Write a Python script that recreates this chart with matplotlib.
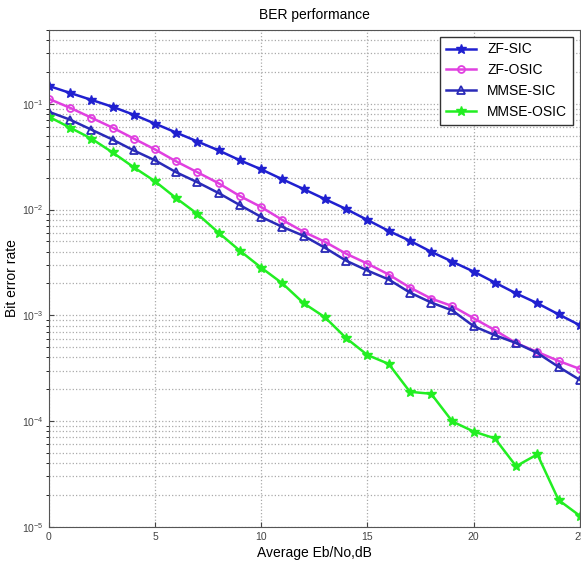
import matplotlib.pyplot as plt

plt.rcParams['font.family'] = ['Liberation Sans', 'DejaVu Sans']

snr = list(range(26))

zf_sic = [0.1476, 0.1267, 0.109, 0.0937, 0.0788, 0.0649, 0.0534, 0.0440, 0.0362, 0.0292,
          0.0240, 0.0193, 0.0156, 0.01255, 0.0101, 0.00797, 0.00628, 0.00506, 0.00399, 0.00321,
          0.00259, 0.00204, 0.00161, 0.00130, 0.00102, 0.000805]
zf_osic = [0.1114, 0.0917, 0.0739, 0.0595, 0.0469, 0.0370, 0.0285, 0.0225, 0.0177, 0.0134,
           0.01055, 0.00796, 0.00615, 0.00495, 0.00382, 0.00308, 0.00243, 0.00183, 0.00144, 0.00122,
           0.000938, 0.000723, 0.000546, 0.000450, 0.000370, 0.000311]
mmse_sic = [0.0841, 0.0708, 0.0570, 0.0459, 0.0362, 0.0292, 0.0225, 0.0181, 0.0143, 0.0110,
            0.00851, 0.00685, 0.00564, 0.00435, 0.00328, 0.00265, 0.00218, 0.00164, 0.00132, 0.00111,
            0.000789, 0.000649, 0.000546, 0.000440, 0.000325, 0.000245]
mmse_osic = [0.0755, 0.0595, 0.0469, 0.0347, 0.0251, 0.0185, 0.0128, 0.00907, 0.00602, 0.00407,
             0.00282, 0.00200, 0.00130, 0.000958, 0.000608, 0.000421, 0.000347, 0.000189, 0.000181, 9.9e-5,
             7.96e-5, 6.85e-5, 3.74e-5, 4.84e-5, 1.79e-5, 1.27e-5]

fig = plt.figure(figsize=(5.81, 5.64), dpi=100)
ax = fig.add_axes([0.084, 0.066, 0.914, 0.881])

ax.semilogy(snr, zf_sic, color='#2020d0', marker='*', markersize=7, lw=1.8, label='ZF-SIC')
ax.semilogy(snr, zf_osic, color='#e040e0', marker='o', markersize=5, mfc='none', mew=1.3, lw=1.8, label='ZF-OSIC')
ax.semilogy(snr, mmse_sic, color='#2a2ab8', marker='^', markersize=6, mfc='none', mew=1.3, lw=1.8, label='MMSE-SIC')
ax.semilogy(snr, mmse_osic, color='#22ee22', marker='*', markersize=7, lw=1.8, label='MMSE-OSIC')

ax.set_xlim(0, 25)
ax.set_ylim(1e-5, 0.5)
ax.set_xticks([0, 5, 10, 15, 20, 25])
ax.grid(True, which='major', linestyle=':', color='#aaaaaa', lw=0.9)
ax.grid(True, which='minor', axis='y', linestyle=':', color='#aaaaaa', lw=0.9)
ax.tick_params(labelsize=7.5, colors='#444444', direction='in')
for s in ax.spines.values():
    s.set_color('#555555')

ax.set_title('BER performance', fontsize=10, pad=8)
ax.set_xlabel('Average Eb/No,dB', fontsize=10, labelpad=3)
ax.set_ylabel('Bit error rate', fontsize=10, labelpad=2)

leg = ax.legend(loc='upper right', fontsize=10, fancybox=False, framealpha=1,
                edgecolor='#333333', handlelength=2.2, borderaxespad=0.5)

fig.savefig('out.png', dpi=100)
